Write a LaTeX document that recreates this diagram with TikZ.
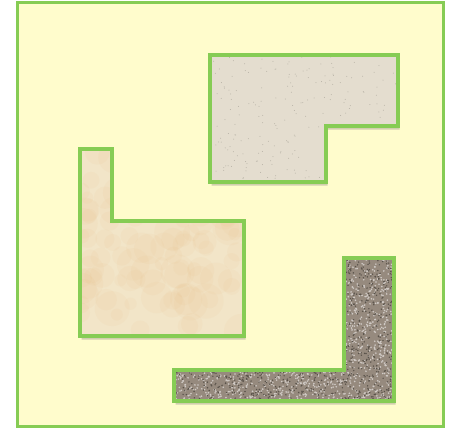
\documentclass[tikz,border=0pt]{standalone}
\usepackage{tikz}
\usetikzlibrary{shadows}
\definecolor{paleyellow}{RGB}{255,252,204}
\definecolor{edgegreen}{RGB}{134,204,84}
\definecolor{limestone}{RGB}{228,221,207}
\definecolor{marble}{RGB}{242,229,200}
\definecolor{gravel}{RGB}{150,138,126}

\tikzset{
  slab/.style={line width=3.5pt, line join=miter,
    drop shadow={shadow xshift=1.5pt, shadow yshift=-3.5pt, opacity=0.3, fill=black!60}},
  rim/.style={draw=edgegreen, line width=3.5pt, line join=miter},
}

\begin{document}
\begin{tikzpicture}[x=1pt, y=-1pt]
\useasboundingbox (0,0) rectangle (449,428);
\fill[white] (0,0) rectangle (449,428);

% yard
\draw[fill=paleyellow, draw=edgegreen, line width=3pt] (17,3) rectangle (443,426);

% limestone slab, top right
\path[slab, fill=limestone] (210,55) -- (398,55) -- (398,126) -- (326,126) -- (326,182) -- (210,182) -- cycle;
\begin{scope}
  \clip (210,55) -- (398,55) -- (398,126) -- (326,126) -- (326,182) -- (210,182) -- cycle;
  \pgfmathsetseed{7}
  \foreach \i in {1,...,220} {
    \pgfmathsetmacro{\px}{210+188*rnd}
    \pgfmathsetmacro{\py}{55+127*rnd}
    \fill[black!20!limestone] (\px,\py) circle (0.5);
  }
\end{scope}
\draw[rim] (210,55) -- (398,55) -- (398,126) -- (326,126) -- (326,182) -- (210,182) -- cycle;

% marble slab, left
\path[slab, fill=marble] (80,149) -- (112,149) -- (112,221) -- (244,221) -- (244,336) -- (80,336) -- cycle;
\begin{scope}
  \clip (80,149) -- (112,149) -- (112,221) -- (244,221) -- (244,336) -- (80,336) -- cycle;
  \pgfmathsetseed{11}
  \foreach \i in {1,...,120} {
    \pgfmathsetmacro{\px}{80+164*rnd}
    \pgfmathsetmacro{\py}{149+187*rnd}
    \pgfmathsetmacro{\pr}{6+12*rnd}
    \fill[brown!50!orange, opacity=0.03] (\px,\py) circle (\pr);
  }
\end{scope}
\draw[rim] (80,149) -- (112,149) -- (112,221) -- (244,221) -- (244,336) -- (80,336) -- cycle;

% gravel strip, bottom right
\path[slab, fill=gravel] (344,258) -- (394,258) -- (394,401) -- (174,401) -- (174,370) -- (344,370) -- cycle;
\begin{scope}
  \clip (344,258) -- (394,258) -- (394,401) -- (174,401) -- (174,370) -- (344,370) -- cycle;
  \pgfmathsetseed{3}
  \foreach \i in {1,...,2200} {
    \pgfmathsetmacro{\px}{174+220*rnd}
    \pgfmathsetmacro{\py}{258+143*rnd}
    \fill[white!55!gravel] (\px,\py) circle (0.9);
  }
  \foreach \i in {1,...,1600} {
    \pgfmathsetmacro{\px}{174+220*rnd}
    \pgfmathsetmacro{\py}{258+143*rnd}
    \fill[black!40!gravel] (\px,\py) circle (0.8);
  }
\end{scope}
\draw[rim] (344,258) -- (394,258) -- (394,401) -- (174,401) -- (174,370) -- (344,370) -- cycle;

\end{tikzpicture}
\end{document}
